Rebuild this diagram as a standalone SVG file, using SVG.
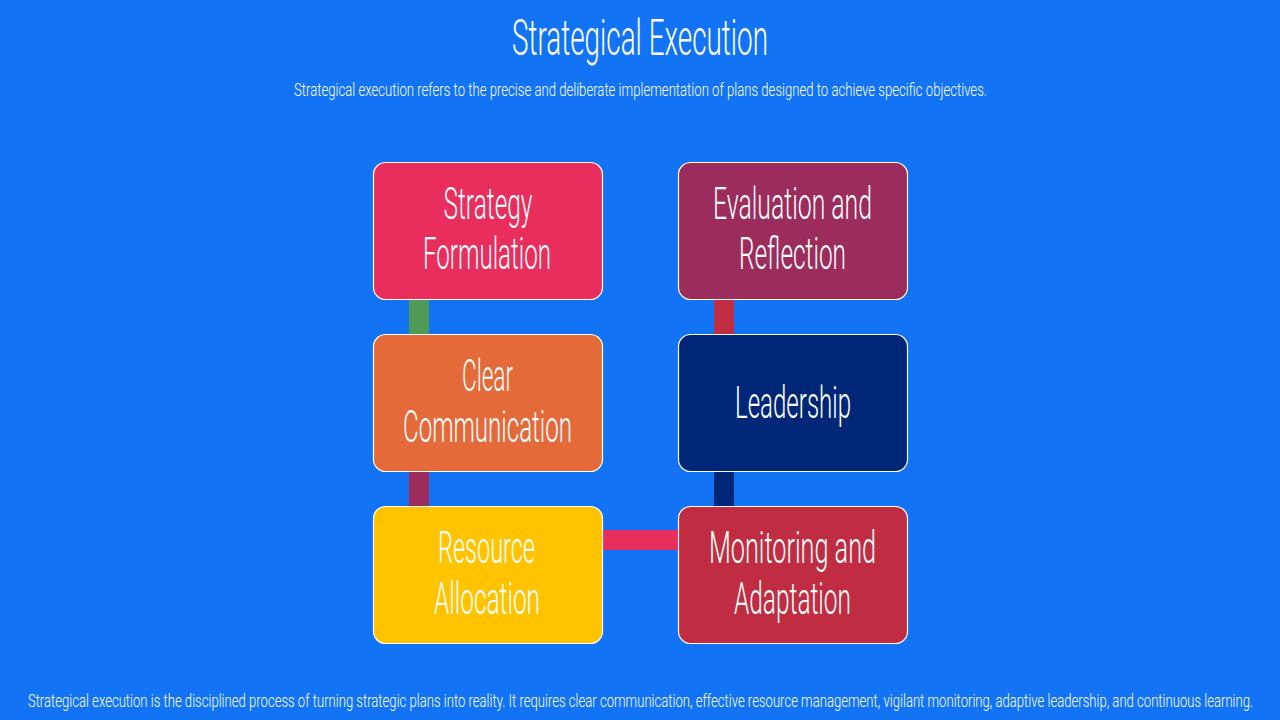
<svg xmlns="http://www.w3.org/2000/svg" width="1280" height="720" viewBox="0 0 1280 720">
<style>
.t{font-family:Roboto,"Liberation Sans",sans-serif;font-weight:300;fill:#ffffff;text-anchor:middle}
.n{font-size:45px}
.s{font-size:19px}
.box{stroke:#ffffff;stroke-width:1.2}
</style>
<rect x="0" y="0" width="1280" height="720" fill="#1274F5"/>
<g id="title">
<text class="t" x="640" y="55" font-size="50" textLength="256" lengthAdjust="spacingAndGlyphs">Strategical Execution</text>
<text class="t s" transform="translate(640.5,96) scale(0.65,1)" x="0" y="0" textLength="1066" lengthAdjust="spacingAndGlyphs">Strategical execution refers to the precise and deliberate implementation of plans designed to achieve specific objectives.</text>
</g>
<g id="connectors">
<rect x="409" y="299" width="20" height="36" fill="#4E9A56"/>
<rect x="409" y="471" width="20" height="36" fill="#9B2C5C"/>
<rect x="602" y="530" width="77" height="20" fill="#E92E5E"/>
<rect x="714" y="471" width="20" height="36" fill="#002777"/>
<rect x="714" y="299" width="20" height="36" fill="#C02D42"/>
</g>
<g id="strategy-formulation">
<rect class="box" x="373.5" y="162.5" width="229" height="137" rx="12" fill="#E92E5E"/>
<text class="t n" x="488" y="219" textLength="89" lengthAdjust="spacingAndGlyphs">Strategy</text>
<text class="t n" x="487" y="269" textLength="128" lengthAdjust="spacingAndGlyphs">Formulation</text>
</g>
<g id="clear-communication">
<rect class="box" x="373.5" y="334.5" width="229" height="137" rx="12" fill="#E46A3A"/>
<text class="t n" x="487.5" y="391" textLength="51" lengthAdjust="spacingAndGlyphs">Clear</text>
<text class="t n" x="487.5" y="442" textLength="169" lengthAdjust="spacingAndGlyphs">Communication</text>
</g>
<g id="resource-allocation">
<rect class="box" x="373.5" y="506.5" width="229" height="137" rx="12" fill="#FFC300"/>
<text class="t n" x="486.5" y="563" textLength="97" lengthAdjust="spacingAndGlyphs">Resource</text>
<text class="t n" x="487" y="614" textLength="106" lengthAdjust="spacingAndGlyphs">Allocation</text>
</g>
<g id="evaluation-reflection">
<rect class="box" x="678.5" y="162.5" width="229" height="137" rx="12" fill="#9B2C5C"/>
<text class="t n" x="792.5" y="219" textLength="159" lengthAdjust="spacingAndGlyphs">Evaluation and</text>
<text class="t n" x="792.5" y="269" textLength="107" lengthAdjust="spacingAndGlyphs">Reflection</text>
</g>
<g id="leadership">
<rect class="box" x="678.5" y="334.5" width="229" height="137" rx="12" fill="#002777"/>
<text class="t n" x="793" y="418" textLength="116" lengthAdjust="spacingAndGlyphs">Leadership</text>
</g>
<g id="monitoring-adaptation">
<rect class="box" x="678.5" y="506.5" width="229" height="137" rx="12" fill="#C02D42"/>
<text class="t n" x="792.5" y="563" textLength="167" lengthAdjust="spacingAndGlyphs">Monitoring and</text>
<text class="t n" x="792.5" y="614" textLength="117" lengthAdjust="spacingAndGlyphs">Adaptation</text>
</g>
<g id="footer">
<text class="t s" transform="translate(640.5,707) scale(0.65,1)" x="0" y="0" textLength="1885" lengthAdjust="spacingAndGlyphs">Strategical execution is the disciplined process of turning strategic plans into reality. It requires clear communication, effective resource management, vigilant monitoring, adaptive leadership, and continuous learning.</text>
</g>
</svg>
